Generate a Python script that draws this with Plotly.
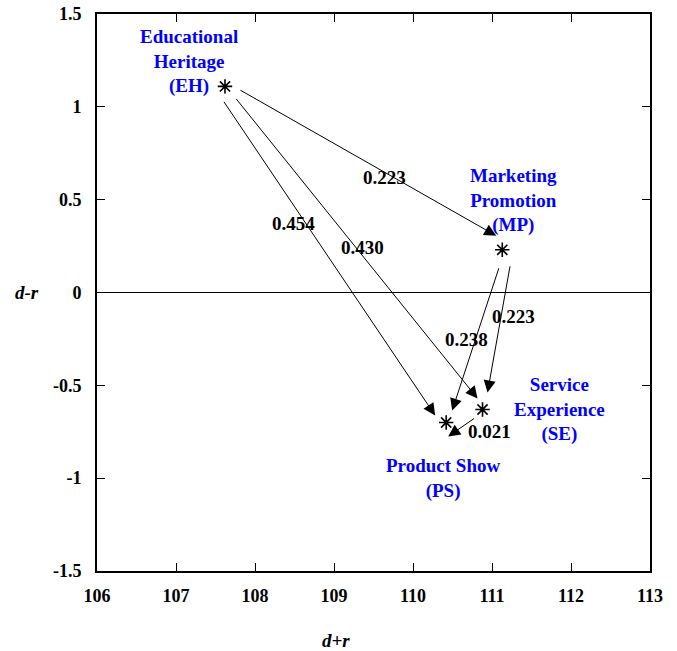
import plotly.graph_objects as go

# ---- data ----
factors = ["EH", "MP", "SE", "PS"]
factor_labels = ["Educational<br>Heritage<br>(EH)", "Marketing<br>Promotion<br>(MP)",
                 "Service<br>Experience<br>(SE)", "Product Show<br>(PS)"]
d_plus_r = [107.62, 111.13, 110.88, 110.42]
d_minus_r = [1.11, 0.23, -0.63, -0.70]

edge_source = ["EH", "EH", "EH", "MP", "MP", "SE"]
edge_target = ["MP", "PS", "SE", "PS", "SE", "PS"]
edge_weight = ["0.223", "0.454", "0.430", "0.238", "0.223", "0.021"]

x_ticks = [106, 107, 108, 109, 110, 111, 112, 113]
y_ticks = [-1.5, -1, -0.5, 0, 0.5, 1, 1.5]

# ---- style / layout (pixel geometry) ----
W, H = 677, 651
ML, MR, MT, MB = 97, 27, 14, 80
X_RANGE = [106, 113]
Y_RANGE = [-1.5, 1.5]
px_per_x = (W - ML - MR) / (X_RANGE[1] - X_RANGE[0])
px_per_y = (H - MT - MB) / (Y_RANGE[1] - Y_RANGE[0])

# pixel offsets (dx right, dy down) of arrow tails/heads from the node markers
tail_off = [(14, 3), (-2, 14), (10, 11), (-3, 17), (8, 15), (-7, 8)]
head_off = [(-6, -14), (-11, -7), (-5, -11), (6, -12), (5, -17), (2, 14)]
# pixel offsets of weight labels from edge midpoints
wlabel_off = [(21, 9), (-42, -31), (9, 0), (-8, 3), (21, -13), (25, 16)]
# pixel offsets of factor labels from their markers
flabel_off = [(-36, -25), (11, -49), (77, 0), (-3, 56)]

FONT = "Liberation Serif"
BLUE = "#0000ff"

pos = {f: (x, y) for f, x, y in zip(factors, d_plus_r, d_minus_r)}


def shift(pt, off):
    return pt[0] + off[0] / px_per_x, pt[1] - off[1] / px_per_y


fig = go.Figure()
fig.add_trace(go.Scatter(
    x=d_plus_r, y=d_minus_r, mode="markers",
    marker=dict(symbol="asterisk-open", size=12, color="black",
                line=dict(color="black", width=1.6)),
    hoverinfo="skip", showlegend=False))

annotations = []
for s, t, w, to, ho, lo in zip(edge_source, edge_target, edge_weight,
                               tail_off, head_off, wlabel_off):
    tx, ty = shift(pos[s], to)
    hx, hy = shift(pos[t], ho)
    annotations.append(dict(
        x=hx, y=hy, ax=tx, ay=ty, xref="x", yref="y", axref="x", ayref="y",
        text="", showarrow=True, arrowhead=2, arrowsize=2.4, arrowwidth=1,
        arrowcolor="black"))
    mx = (pos[s][0] + pos[t][0]) / 2
    my = (pos[s][1] + pos[t][1]) / 2
    annotations.append(dict(
        x=mx, y=my, xref="x", yref="y", text="<b>%s</b>" % w, showarrow=False,
        xshift=lo[0], yshift=-lo[1],
        font=dict(family=FONT, size=19, color="black")))

for f, lab, off in zip(factors, factor_labels, flabel_off):
    annotations.append(dict(
        x=pos[f][0], y=pos[f][1], xref="x", yref="y", text="<b>%s</b>" % lab,
        showarrow=False, xshift=off[0], yshift=-off[1], align="center",
        font=dict(family=FONT, size=19, color=BLUE)))

annotations.append(dict(x=0.432, y=-0.124, xref="paper", yref="paper",
                        xanchor="center", yanchor="middle",
                        text="<b><i>d+r</i></b>", showarrow=False,
                        font=dict(family=FONT, size=19, color="black")))
annotations.append(dict(x=-0.127, y=0.5, xref="paper", yref="paper",
                        xanchor="center", yanchor="middle",
                        text="<b><i>d-r</i></b>", showarrow=False,
                        font=dict(family=FONT, size=19, color="black")))

axis_common = dict(showline=True, linecolor="black", linewidth=2, mirror="ticks",
                   ticks="inside", ticklen=8, tickwidth=1, tickcolor="black",
                   showgrid=False, automargin=False,
                   tickfont=dict(family=FONT, size=18, color="black"))

fig.update_layout(
    width=W, height=H, margin=dict(l=ML, r=MR, t=MT, b=MB, autoexpand=False),
    plot_bgcolor="white", paper_bgcolor="white",
    xaxis=dict(range=X_RANGE, tickvals=x_ticks,
               ticktext=["<b>%d</b>" % v for v in x_ticks],
               zeroline=False, ticklabelstandoff=7, **axis_common),
    yaxis=dict(range=Y_RANGE, tickvals=y_ticks,
               ticktext=["<b>%g</b>" % v for v in y_ticks],
               zeroline=True, zerolinecolor="black", zerolinewidth=1,
               ticklabelstandoff=10, **axis_common),
    annotations=annotations,
)

fig.write_html("out.html")
